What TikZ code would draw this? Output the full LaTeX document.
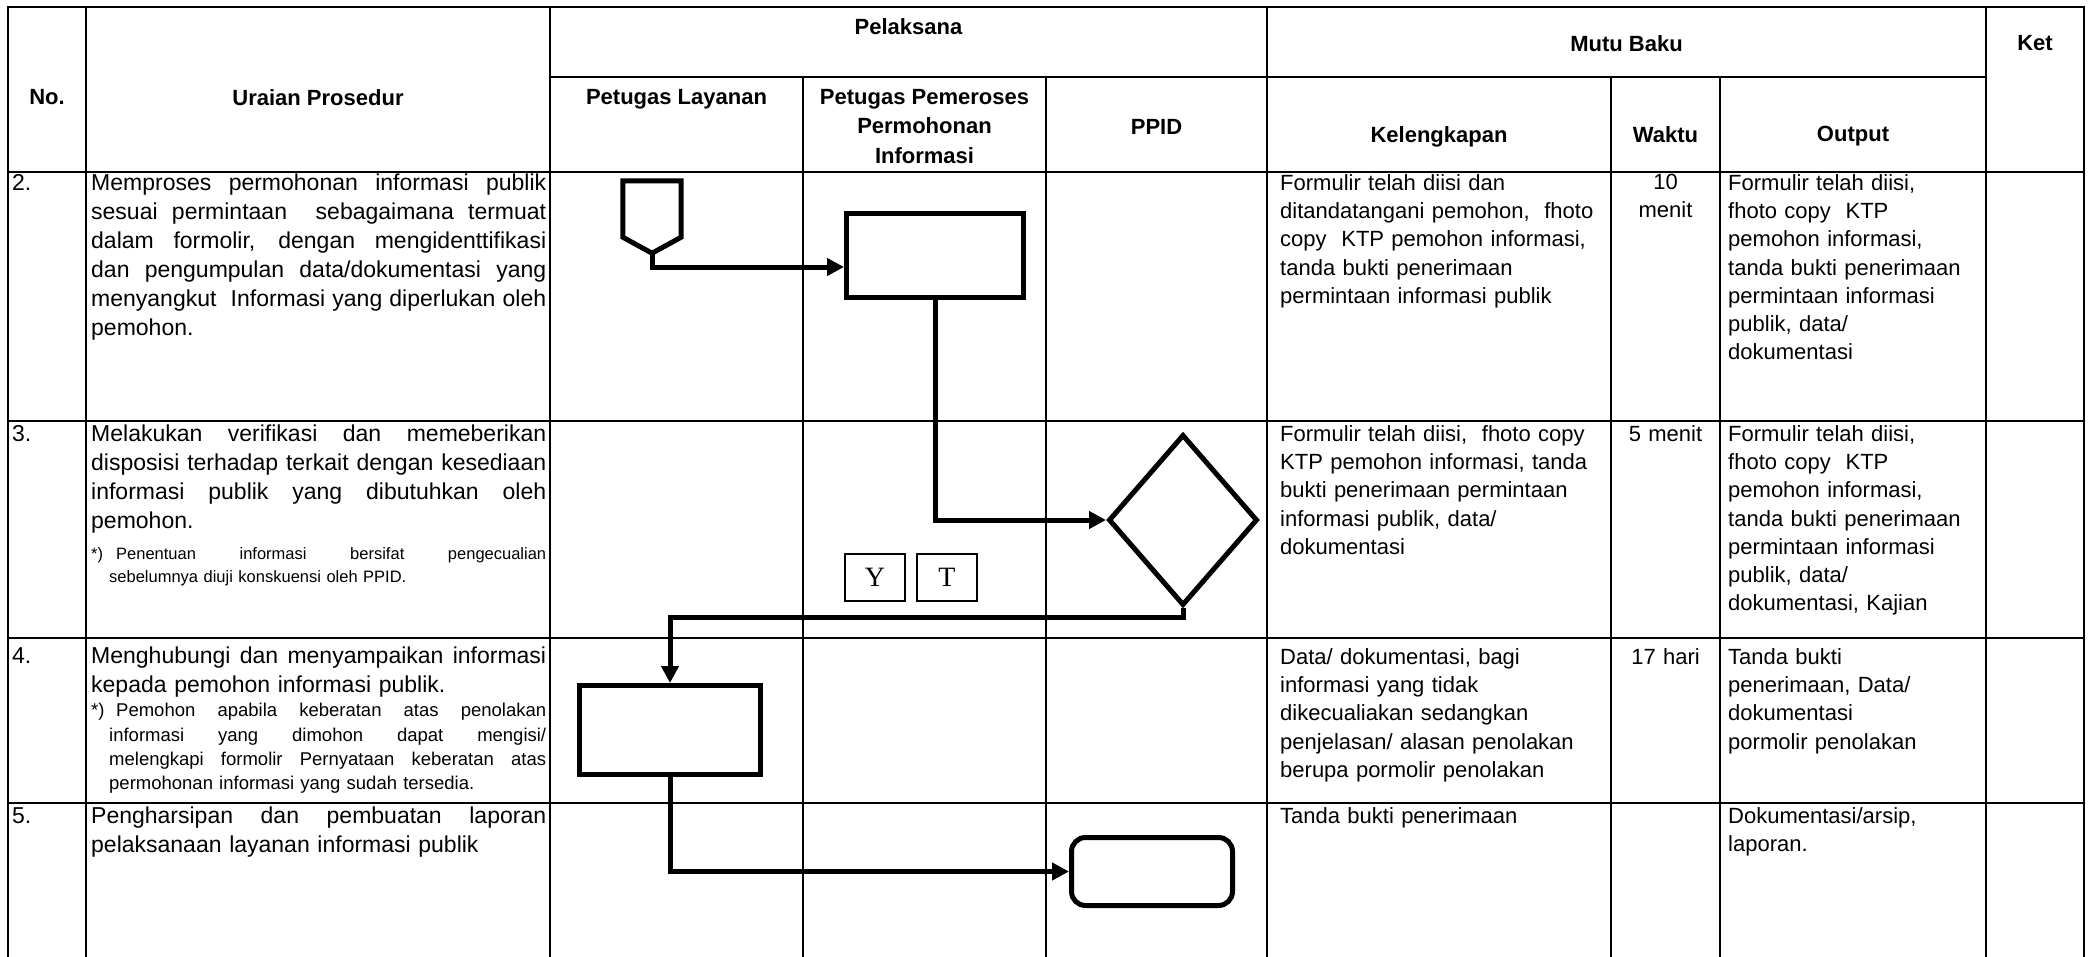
\documentclass[tikz,border=0pt]{standalone}
\usepackage{fontspec}
\setmainfont{Liberation Sans}
\newfontfamily\serifyt{Liberation Serif}
\usetikzlibrary{shapes.geometric,arrows.meta,calc}
\newcommand\jus[2]{\makebox[#1][s]{\spaceskip=0pt\xspaceskip=0pt\relax #2}}
\begin{document}
\begin{tikzpicture}[x=1pt,y=-1pt,
  tline/.style={line width=2.2pt, line cap=rect},
  hdr/.style={font=\fontsize{22}{29.5}\selectfont\bfseries, inner sep=0pt, align=center, anchor=north},
  txt/.style={font=\fontsize{22}{28.3}\selectfont, inner sep=0pt, anchor=north west, align=left},
  urt/.style={font=\fontsize{23}{29}\selectfont, inner sep=0pt, anchor=north west, align=left},
  fnthree/.style={font=\fontsize{16.5}{23}\selectfont, inner sep=0pt, anchor=north west, align=left, text width=455pt},
  fnfour/.style={font=\fontsize{18.5}{24.4}\selectfont, inner sep=0pt, anchor=north west, align=left, text width=455pt},
  wkt/.style={font=\fontsize{22}{28.3}\selectfont, inner sep=0pt, anchor=north, align=center, text width=105pt},
  procbox/.style={draw, fill=white, line width=5pt, inner sep=0pt},
  conn/.style={line width=5pt, line join=miter, -{Triangle[length=17pt,width=17pt]}},
  ytbox/.style={draw, line width=1.3pt, minimum width=60pt, minimum height=47pt, inner sep=0pt, font=\serifyt\fontsize{28}{28}\selectfont}
]
\useasboundingbox (0,0) rectangle (2093,956);

% ---------- table grid ----------
\draw[tline] (8,7) -- (2084,7);
\draw[tline] (550,77) -- (1986,77);
\foreach \yy in {172,421,638,803} { \draw[tline] (8,\yy) -- (2084,\yy); }
\foreach \xx in {8,86,550,1267,1986,2084} { \draw[tline] (\xx,7) -- (\xx,956); }
\foreach \xx in {803,1046,1611,1720} { \draw[tline] (\xx,77) -- (\xx,956); }

% ---------- header ----------
\node[hdr] (hno) at (47,89) {No.};
\node[hdr] (hur) at (318,89) {Uraian Prosedur};
\node[hdr] (hpel) at (908.5,18) {Pelaksana};
\node[hdr] (hmutu) at (1626.5,35) {Mutu Baku};
\node[hdr] (hket) at (2035,35) {Ket};
\node[hdr] (hpl) at (676.5,89) {Petugas Layanan};
\node[hdr] (hpp) at (924.5,89) {Petugas Pemeroses\\Permohonan\\Informasi};
\node[hdr] (hppid) at (1156.5,119) {PPID};
\node[hdr] (hkel) at (1439,126) {Kelengkapan};
\node[hdr] (hwak) at (1665.5,126) {Waktu};
\node[hdr] (hout) at (1853,126) {Output};

% ---------- row 2 ----------
\node[urt] (n2) at (12,174) {2.};
\node[urt, text width=455pt] (u2) at (91,174) {\jus{455pt}{Memproses permohonan informasi publik}\\\jus{455pt}{sesuai permintaan\ \ sebagaimana termuat}\\\jus{455pt}{dalam formolir, dengan mengidenttifikasi}\\\jus{455pt}{dan pengumpulan data/dokumentasi yang}\\\jus{455pt}{menyangkut\ \ Informasi yang diperlukan oleh}\\pemohon.};
\node[txt, text width=330pt] (k2) at (1280,174) {Formulir telah diisi dan\\ditandatangani pemohon,\ \ fhoto\\copy\ \ KTP pemohon informasi,\\tanda bukti penerimaan\\permintaan informasi publik};
\node[wkt] (w2) at (1665.5,174) {10\\menit};
\node[txt, text width=255pt] (o2) at (1728,174) {Formulir telah diisi,\\fhoto copy\ \ KTP\\pemohon informasi,\\tanda bukti penerimaan\\permintaan informasi\\publik, data/\\dokumentasi};

% ---------- row 3 ----------
\node[urt] (n3) at (12,425) {3.};
\node[urt, text width=455pt] (u3) at (91,425) {\jus{455pt}{Melakukan verifikasi dan memeberikan}\\\jus{455pt}{disposisi terhadap terkait dengan kesediaan}\\\jus{455pt}{informasi publik yang dibutuhkan oleh}\\pemohon.};
\node[fnthree] (f3) at (91,547) {\makebox[25pt][l]{*)}\jus{430pt}{Penentuan informasi bersifat pengecualian}\\\hspace*{18pt}sebelumnya diuji konskuensi oleh PPID.};
\node[txt, text width=330pt] (k3) at (1280,425) {Formulir telah diisi,\ \ fhoto copy\\KTP pemohon informasi, tanda\\bukti penerimaan permintaan\\informasi publik, data/\\dokumentasi};
\node[wkt] (w3) at (1665.5,425) {5 menit};
\node[txt, text width=255pt] (o3) at (1728,425) {Formulir telah diisi,\\fhoto copy\ \ KTP\\pemohon informasi,\\tanda bukti penerimaan\\permintaan informasi\\publik, data/\\dokumentasi, Kajian};

% ---------- row 4 ----------
\node[urt] (n4) at (12,647) {4.};
\node[urt, text width=455pt] (u4) at (91,647) {\jus{455pt}{Menghubungi dan menyampaikan informasi}\\kepada pemohon informasi publik.};
\node[fnfour] (f4) at (91,703) {\makebox[25pt][l]{*)}\jus{430pt}{Pemohon apabila keberatan atas penolakan}\\\hspace*{18pt}\jus{437pt}{informasi yang dimohon dapat mengisi/}\\\hspace*{18pt}\jus{437pt}{melengkapi formolir Pernyataan keberatan atas}\\\hspace*{18pt}permohonan informasi yang sudah tersedia.};
\node[txt, text width=330pt] (k4) at (1280,648) {Data/ dokumentasi, bagi\\informasi yang tidak\\dikecualiakan sedangkan\\penjelasan/ alasan penolakan\\berupa pormolir penolakan};
\node[wkt] (w4) at (1665.5,648) {17 hari};
\node[txt, text width=255pt] (o4) at (1728,648) {Tanda bukti\\penerimaan, Data/\\dokumentasi\\pormolir penolakan};

% ---------- row 5 ----------
\node[urt] (n5) at (12,807) {5.};
\node[urt, text width=455pt] (u5) at (91,807) {\jus{455pt}{Pengharsipan dan pembuatan laporan}\\pelaksanaan layanan informasi publik};
\node[txt, text width=330pt] (k5) at (1280,807) {Tanda bukti penerimaan};
\node[txt, text width=255pt] (o5) at (1728,807) {Dokumentasi/arsip,\\laporan.};

% ---------- flowchart shapes ----------
\node[minimum width=58pt, minimum height=72pt, inner sep=0pt] (pent) at (652,217) {};
\draw[line width=5pt, line join=miter, fill=white] (pent.south) -- ([yshift=16pt]pent.south west) -- (pent.north west) -- (pent.north east) -- ([yshift=16pt]pent.south east) -- cycle;
\node[procbox, minimum width=177pt, minimum height=84pt] (box1) at (935,255.5) {};
\node[procbox, diamond, minimum width=149pt, minimum height=171pt] (dia) at (1183,520) {};
\node[procbox, minimum width=181pt, minimum height=89pt] (box2) at (670,730) {};
\node[procbox, rounded corners=14pt, minimum width=161pt, minimum height=68pt] (rbox) at (1152,871.5) {};
\node[ytbox] (ybox) at (875,577.5) {Y};
\node[ytbox] (tbox) at (947,577.5) {T};

% ---------- connectors ----------
\draw[conn] (pent.south) |- ([yshift=-11.5pt]box1.west);
\draw[conn] (box1.south) |- (dia.west);
\draw[conn] (dia.south) -- ++(0,9.5) -| (box2.north);
\draw[conn] (box2.south) |- (rbox.west);
\end{tikzpicture}
\end{document}
